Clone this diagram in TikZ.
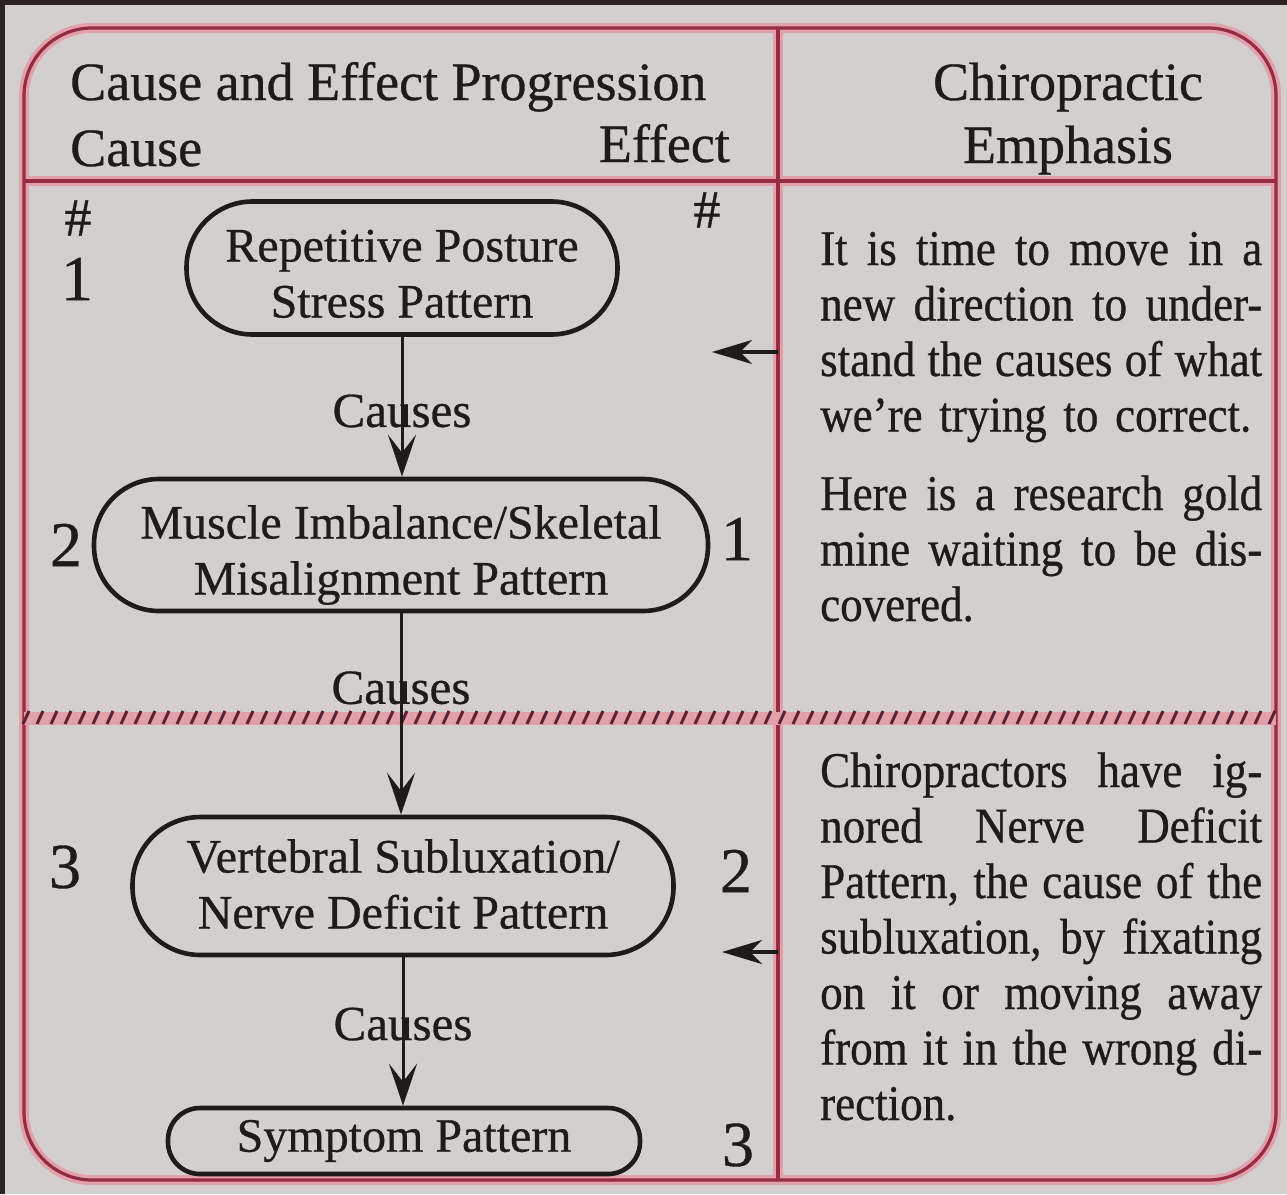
\documentclass[tikz,border=0pt]{standalone}
\usepackage{fontspec}
\setmainfont{Liberation Serif}[FakeBold=0.6]
\newfontfamily\parafont[FakeStretch=0.9,FakeBold=0.6]{Liberation Serif}
\usetikzlibrary{arrows.meta}
\definecolor{bgc}{HTML}{D3CFCF}
\definecolor{pinkglow}{HTML}{E2A0AB}
\definecolor{redcore}{HTML}{952C44}
\definecolor{hatchc}{HTML}{5E2232}
\definecolor{ink}{HTML}{1E1B1B}
\definecolor{framec}{HTML}{2A2222}
\newcommand{\TopS}[1]{\rule{0pt}{#1pt}}
\newcommand{\BotS}[1]{\rule[-#1pt]{0pt}{#1pt}}
\newcommand{\jline}[1]{{\spaceskip=0.22em plus 2em minus 0.13em\relax\makebox[442pt][s]{#1}}}
\begin{document}
\begin{tikzpicture}[x=1pt,y=-1pt,
  glow/.style={draw=pinkglow,line width=10pt},
  core/.style={draw=redcore,line width=3.2pt},
  oval/.style={draw=ink,line width=4.6pt,rectangle,inner sep=0pt,align=center,text=ink,font=\fontsize{48}{56}\selectfont},
  head/.style={text=ink,inner sep=0pt,font=\fontsize{54}{62}\selectfont},
  num/.style={text=ink,inner sep=0pt,font=\fontsize{64}{70}\selectfont},
  hashm/.style={text=ink,inner sep=0pt,font=\fontsize{54}{60}\selectfont},
  lbl/.style={text=ink,inner sep=0pt,font=\fontsize{49}{56}\selectfont},
  para/.style={text=ink,inner sep=0pt,text width=442pt,align=left,anchor=base west,
    font=\parafont\fontsize{50}{55.5}\selectfont},
  downarr/.style={draw=ink,line width=3pt,-{Stealth[length=42pt,width=28pt,inset=18pt]}},
  leftarr/.style={draw=ink,line width=3.4pt,-{Stealth[length=40pt,width=24pt,inset=12pt]}},
]
\useasboundingbox (0,0) rectangle (1287,1194);
\fill[bgc] (0,0) rectangle (1287,1194);
\draw[framec,line width=9pt] (0,1194) -- (0,0) -- (1287,0);

% table frame
\draw[glow,rounded corners=68pt] (24,28) rectangle (1276,1180);
\draw[glow] (24,181) -- (1276,181);
\draw[glow] (778,28) -- (778,1180);
\draw[core,rounded corners=68pt] (24,28) rectangle (1276,1180);
\draw[core] (24,181) -- (1276,181);
\draw[core] (778,28) -- (778,1180);
% hatched separator
\draw[pinkglow,line width=13pt] (24,718) -- (1276,718);
\foreach \x in {26,40,...,1272} \draw[hatchc,line width=3pt] (\x-3,724) -- (\x+3,711);

% header
\node[head,anchor=base west] (h1) at (70,100) {Cause and Effect Progression};
\node[head,anchor=base west] (h2) at (70,166) {Cause};
\node[head,anchor=base east] (h3) at (730,162) {Effect};
\node[head,anchor=base] (h4) at (1068,100) {Chiropractic};
\node[head,anchor=base] (h5) at (1068,163) {Emphasis};

% ovals
\node[oval,minimum width=431pt,minimum height=133pt,rounded corners=66pt] (n1) at (402,268) {\TopS{55}Repetitive Posture\\Stress Pattern\BotS{12}};
\node[oval,minimum width=614pt,minimum height=132pt,rounded corners=65pt] (n2) at (401,545) {\TopS{55}Muscle Imbalance/Skeletal\\Misalignment Pattern\BotS{12}};
\node[oval,minimum width=541pt,minimum height=138pt,rounded corners=68pt] (n3) at (403,886) {\TopS{41}Vertebral Subluxation/\\Nerve Deficit Pattern\BotS{12}};
\node[oval,minimum width=472pt,minimum height=66pt,rounded corners=32pt] (n4) at (404,1141) {Symptom Pattern};

% arrows
\draw[downarr] (n1.south) -- node[lbl,pos=0.53] (c1) {Causes} (n1.south |- n2.north);
\draw[downarr] (n2.south) -- node[lbl,pos=0.37] (c2) {Causes} (n2.south |- n3.north);
\draw[downarr] (n3.south) -- node[lbl,pos=0.45] (c3) {Causes} (n3.south |- n4.north);

\coordinate (d1) at (778,352);
\coordinate (t1) at (712,352);
\coordinate (d2) at (778,952);
\coordinate (t2) at (722,952);
\draw[leftarr] (d1) -- (t1);
\draw[leftarr] (d2) -- (t2);

% numbers
\node[hashm] (k1) at (78,218) {\#};
\node[num] (k2) at (77,279) {1};
\node[hashm] (k3) at (707,210) {\#};
\node[num] (m1) at (66,545) {2};
\node[num] (m2) at (737,539) {1};
\node[num] (m3) at (65,867) {3};
\node[num] (m4) at (736,871) {2};
\node[num] (m5) at (738,1145) {3};

% right column text
\node[para] (p1) at (820,265) {\jline{It is time to move in a}\\\jline{new direction to under-}\\\jline{stand the causes of what}\\we’re trying to correct.};
\node[para] (p2) at (820,510) {\jline{Here is a research gold}\\\jline{mine waiting to be dis-}\\covered.};
\node[para] (p3) at (820,787) {\jline{Chiropractors have ig-}\\\jline{nored Nerve Deficit}\\\jline{Pattern, the cause of the}\\\jline{subluxation, by fixating}\\\jline{on it or moving away}\\\jline{from it in the wrong di-}\\rection.};
\end{tikzpicture}
\end{document}
